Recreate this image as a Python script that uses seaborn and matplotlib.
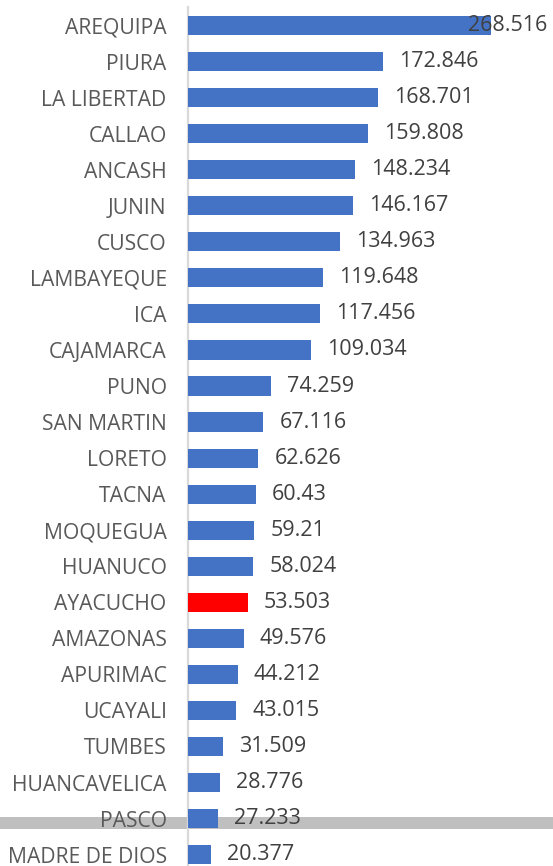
import matplotlib
matplotlib.use("Agg")
import matplotlib.pyplot as plt
import matplotlib.patches as mpatches
import matplotlib.transforms as mtransforms
import seaborn as sns
import pandas as pd

regions = ["AREQUIPA", "PIURA", "LA LIBERTAD", "CALLAO", "ANCASH", "JUNIN", "CUSCO",
           "LAMBAYEQUE", "ICA", "CAJAMARCA", "PUNO", "SAN MARTIN", "LORETO", "TACNA",
           "MOQUEGUA", "HUANUCO", "AYACUCHO", "AMAZONAS", "APURIMAC", "UCAYALI",
           "TUMBES", "HUANCAVELICA", "PASCO", "MADRE DE DIOS"]
values = [268.516, 172.846, 168.701, 159.808, 148.234, 146.167, 134.963,
          119.648, 117.456, 109.034, 74.259, 67.116, 62.626, 60.43,
          59.21, 58.024, 53.503, 49.576, 44.212, 43.015,
          31.509, 28.776, 27.233, 20.377]
labels = ["268.516", "172.846", "168.701", "159.808", "148.234", "146.167", "134.963",
          "119.648", "117.456", "109.034", "74.259", "67.116", "62.626", "60.43",
          "59.21", "58.024", "53.503", "49.576", "44.212", "43.015",
          "31.509", "28.776", "27.233", "20.377"]
highlight = "AYACUCHO"

BLUE = "#4472C4"
RED = "#FF0000"
colors = [RED if r == highlight else BLUE for r in regions]
df = pd.DataFrame({"region": regions, "value": values})

W, H = 553, 866
fig = plt.figure(figsize=(W / 100, H / 100), dpi=100)
fig.patch.set_facecolor("white")

scale = 1.131  # px per unit
x0 = 187.5
top_c, step = 25.5, 36.05
ax_top = top_c - step / 2
ax_bot = top_c + 23 * step + step / 2
ax = fig.add_axes([x0 / W, 1 - ax_bot / H, (W - x0) / W, (ax_bot - ax_top) / H])
ax.patch.set_alpha(0)

# gray band across the whole figure, under everything
ax.add_patch(mpatches.Rectangle((0, 1 - 829 / H), 1, 12 / H, transform=fig.transFigure,
                                facecolor="#BFBFBF", edgecolor="none", zorder=0.1, clip_on=False))

sns.barplot(data=df, x="value", y="region", hue="region", palette=colors, legend=False,
            width=0.53, ax=ax, orient="h", saturation=1, zorder=2)

xmax = (W - x0) / scale
ax.set_xlim(0, xmax)
ax.set_ylim(len(regions) - 0.5, -0.5)
for s in ["top", "right", "bottom"]:
    ax.spines[s].set_visible(False)
ax.spines["left"].set_color("#D9D9D9")
ax.spines["left"].set_linewidth(1.6)
ax.spines["left"].set_zorder(1)
ax.set_xticks([])
ax.set_xlabel("")
ax.set_ylabel("")
ax.tick_params(axis="y", length=0, pad=15, labelsize=15.2, labelcolor="#595959")
for t in ax.get_yticklabels():
    t.set_fontfamily("Open Sans")

pad_units = 16 / scale
blend = mtransforms.blended_transform_factory(ax.transAxes, ax.transData)
for i, (v, lab) in enumerate(zip(values, labels)):
    if (v * scale + 16 + 80) > (W - x0):
        ax.text(1 - 6 / (W - x0), i, lab, transform=blend, ha="right", va="center",
                fontsize=15.5, color="#404040", family="Open Sans", zorder=4)
    else:
        ax.text(v + pad_units, i, lab, ha="left", va="center", fontsize=15.5,
                color="#404040", family="Open Sans", zorder=4)

fig.savefig("out.png", dpi=100)
